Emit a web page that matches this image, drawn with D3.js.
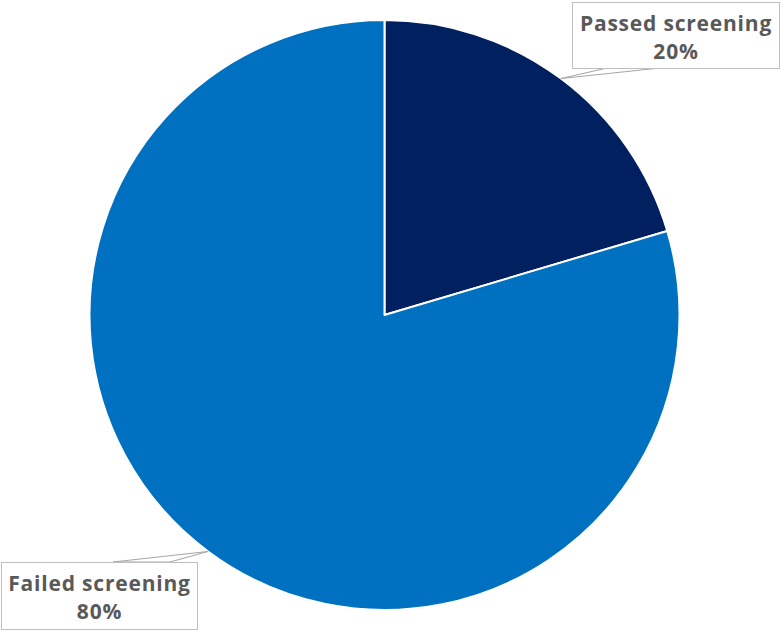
<!DOCTYPE html>
<html>
  <head>
    <meta charset="utf-8">
    <title>Screening pie</title>
    <script src="https://cdnjs.cloudflare.com/ajax/libs/d3/7.8.5/d3.min.js"></script>
    <style>
      body { margin: 0; background: #fff; }
      text { font-family: "Open Sans", sans-serif; font-weight: 700; fill: #595959; letter-spacing: 0.8px; }
    </style>
  </head>
  <body>
    <script>
      // data
      var categories = ["Passed screening", "Failed screening"];
      var values = [20.4, 79.6];
      var pctLabels = ["20%", "80%"];
      var colors = ["#002060", "#0070C0"];

      var width = 781, height = 631;
      var cx = 384.5, cy = 315, radius = 295;

      // label boxes (layout)
      var boxes = [
        { x: 572, y: 2, w: 207, h: 66, lead: [607, 660] },
        { x: 1, y: 562, w: 196, h: 67, lead: [113, 170] }
      ];

      var svg = d3.select("body").append("svg")
        .attr("width", width)
        .attr("height", height);

      var g = svg.append("g")
        .attr("transform", "translate(" + cx + "," + cy + ")");

      var pie = d3.pie().sort(null).value(function(d){ return d; });
      var arcs = pie(values);

      var arc = d3.arc().innerRadius(0).outerRadius(radius);
      var edgeArc = d3.arc().innerRadius(radius).outerRadius(radius);

      g.selectAll("path.slice").data(arcs).enter().append("path")
        .attr("class", "slice")
        .attr("d", arc)
        .attr("fill", function(d, i){ return colors[i]; })
        .attr("stroke", "#fff")
        .attr("stroke-width", 2)
        .attr("stroke-linejoin", "round");

      // leader lines
      arcs.forEach(function(d, i){
        var c = edgeArc.centroid(d);
        var px = cx + c[0], py = cy + c[1];
        var b = boxes[i];
        var by = i === 0 ? b.y + b.h : b.y;
        svg.append("polygon")
          .attr("points", [[px, py], [b.lead[0], by], [b.lead[1], by]].map(function(p){ return p.join(","); }).join(" "))
          .attr("fill", "#fff")
          .attr("stroke", "#a6a6a6")
          .attr("stroke-width", 1);
      });

      // label boxes
      boxes.forEach(function(b, i){
        svg.append("rect")
          .attr("x", b.x + 0.5).attr("y", b.y + 0.5)
          .attr("width", b.w).attr("height", b.h)
          .attr("fill", "#fff")
          .attr("stroke", "#bfbfbf")
          .attr("stroke-width", 1);
        var tx = b.x + b.w / 2 + 0.5;
        svg.append("text")
          .attr("x", tx).attr("y", b.y + 29)
          .attr("text-anchor", "middle")
          .attr("font-size", 21)
          .text(categories[i]);
        svg.append("text")
          .attr("x", tx).attr("y", b.y + 57)
          .attr("text-anchor", "middle")
          .attr("font-size", 21)
          .text(pctLabels[i]);
      });
    </script>
  </body>
</html>
